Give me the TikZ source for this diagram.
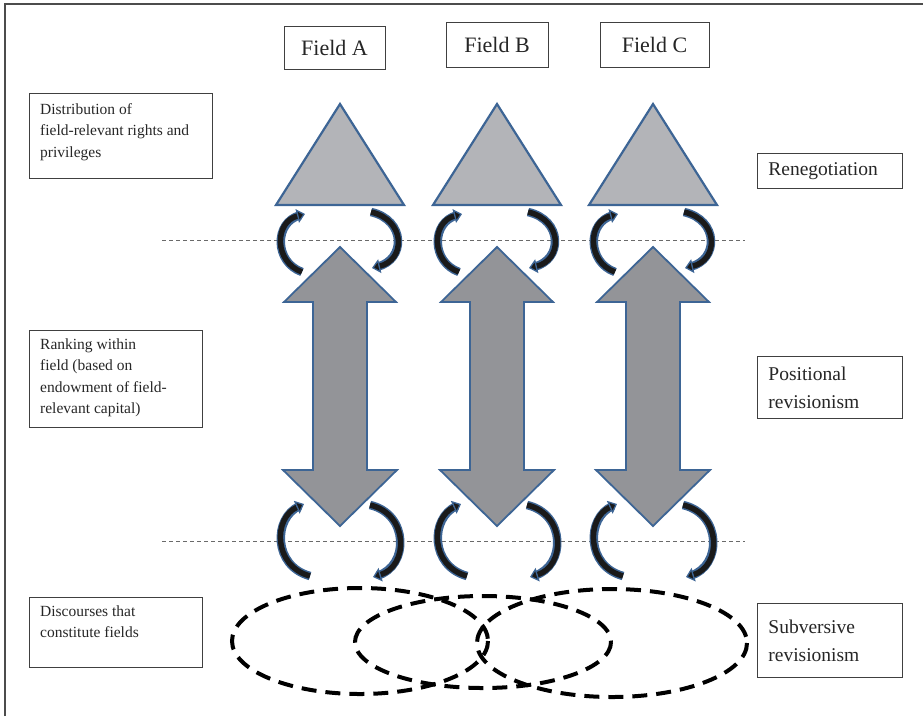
\documentclass[tikz,border=0pt]{standalone}
\usepackage{fontspec}
\setmainfont{Liberation Serif}
\usetikzlibrary{arrows.meta,calc}
\definecolor{edgeblue}{HTML}{3D6595}
\definecolor{trifill}{HTML}{B3B4B8}
\definecolor{arrfill}{HTML}{939498}
\definecolor{arcblack}{HTML}{1A1A1A}
\definecolor{dashgray}{HTML}{6A6A6A}
\tikzset{
  plainbox/.style={draw=black!75, line width=0.8pt, inner sep=0pt},
  fieldlbl/.style={plainbox, font=\fontsize{22}{26}\selectfont, text=black!85},
  rbox/.style={plainbox, anchor=north west, inner xsep=11pt, align=left,
     font=\fontsize{19.5}{28}\selectfont, text=black!85},
  ltext/.style={anchor=north west, inner sep=0pt, align=left,
     font=\fontsize{15.5}{21.5}\selectfont, text=black!85},
  tri/.style={draw=edgeblue, line width=2.2pt, fill=trifill, line join=miter},
  dbl/.style={draw=edgeblue, line width=1.8pt, fill=arrfill, line join=miter},
  arcback/.style={draw=edgeblue, line width=8.5pt, shorten >=5pt},
  arcfront/.style={draw=arcblack, line width=5.5pt,
     -{Triangle[length=8pt, width=14pt, fill=arcblack, line width=1.3pt, color=edgeblue]}},
  guide/.style={draw=dashgray, line width=1pt, dash pattern=on 4pt off 3pt},
  disc/.style={draw=black, line width=4pt, dash pattern=on 15pt off 9pt}
}
\begin{document}
\begin{tikzpicture}[x=1pt,y=-1pt]
\useasboundingbox (0,0) rectangle (923,716);
% outer frame
\draw[black!70, line width=1.2pt] (5,716) -- (5,4) -- (923,4);

% field labels
\node[fieldlbl, minimum width=101, minimum height=43] (fa) at (334.5,47.5) {Field A};
\node[fieldlbl, minimum width=102, minimum height=45] (fb) at (497,44.5) {Field B};
\node[fieldlbl, minimum width=109, minimum height=45] (fc) at (654.5,44.5) {Field C};

% left boxes
\node[plainbox, anchor=north west, minimum width=183, minimum height=85] (dist) at (29,93) {};
\node[ltext] (distt) at ($(dist.north west)+(11,10)$) {Distribution of\\field-relevant rights and\\privileges};
\node[plainbox, anchor=north west, minimum width=173, minimum height=97] (rank) at (29,330) {};
\node[ltext] (rankt) at ($(rank.north west)+(11,8.5)$) {Ranking within\\field (based on\\endowment of field-\\relevant capital)};
\node[plainbox, anchor=north west, minimum width=173, minimum height=70] (disc) at (29,597) {};
\node[ltext] (disct) at ($(disc.north west)+(11,8.5)$) {Discourses that\\constitute fields};

% right boxes
\node[rbox, text width=123pt, minimum height=35] (reneg) at (757,153) {Renegotiation};
\node[rbox, text width=123pt, minimum height=62] (posit) at (757,356) {Positional\\revisionism};
\node[rbox, text width=123pt, minimum height=74] (subv) at (757,603) {Subversive\\revisionism};

% dashed guide lines
\coordinate (g1a) at (162,240); \coordinate (g1b) at (745,240);
\coordinate (g2a) at (162,541); \coordinate (g2b) at (745,541);
\draw[guide] (g1a) -- (g1b);
\draw[guide] (g2a) -- (g2b);

% columns
\foreach \cx in {340,497,653}{
  % triangle
  \draw[tri] (\cx,104) -- (\cx+64,205) -- (\cx-64,205) -- cycle;
  % double arrow
  \draw[dbl] (\cx,247) -- (\cx+56,302) -- (\cx+27,302) -- (\cx+27,470) -- (\cx+57,470)
     -- (\cx,526) -- (\cx-57,470) -- (\cx-27,470) -- (\cx-27,302) -- (\cx-56,302) -- cycle;
  % top arcs
  \draw[arcback] (\cx-38,272) .. controls (\cx-66,262) and (\cx-66,222) .. (\cx-35,214);
  \draw[arcfront] (\cx-38,272) .. controls (\cx-66,262) and (\cx-66,222) .. (\cx-35,214);
  \draw[arcback] (\cx+31,212) .. controls (\cx+66,220) and (\cx+66,260) .. (\cx+32,268);
  \draw[arcfront] (\cx+31,212) .. controls (\cx+66,220) and (\cx+66,260) .. (\cx+32,268);
  % bottom arcs
  \draw[arcback] (\cx-30,576) .. controls (\cx-67,566) and (\cx-67,518) .. (\cx-36,504);
  \draw[arcfront] (\cx-30,576) .. controls (\cx-67,566) and (\cx-67,518) .. (\cx-36,504);
  \draw[arcback] (\cx+30,505) .. controls (\cx+69,514) and (\cx+69,566) .. (\cx+33,577);
  \draw[arcfront] (\cx+30,505) .. controls (\cx+69,514) and (\cx+69,566) .. (\cx+33,577);
}

% discourse ellipses
\draw[disc] (360,641) ellipse [x radius=128, y radius=53];
\draw[disc] (483,642) ellipse [x radius=128, y radius=46];
\draw[disc] (612,643) ellipse [x radius=135, y radius=54];
\end{tikzpicture}
\end{document}
